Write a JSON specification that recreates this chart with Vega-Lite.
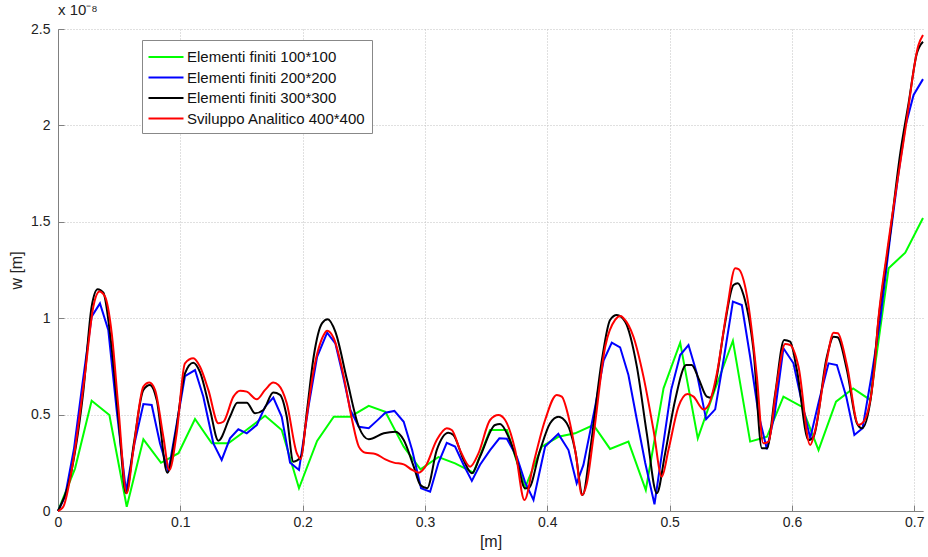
{
  "$schema": "https://vega.github.io/schema/vega-lite/v6.json",
  "width": 865,
  "height": 482,
  "autosize": {"type": "none"},
  "padding": {"left": 58, "top": 29, "right": 5, "bottom": 46},
  "background": "white",
  "title": {"text": "x 10⁻⁸", "anchor": "start", "frame": "group", "fontSize": 15, "fontWeight": "normal", "font": "Liberation Sans", "color": "#222222", "offset": 4},
  "data": {"values": [
    {"s":"Elementi finiti 100*100","x":0,"y":0},{"s":"Elementi finiti 100*100","x":0.0139,"y":0.22},{"s":"Elementi finiti 100*100","x":0.0275,"y":0.572},{"s":"Elementi finiti 100*100","x":0.042,"y":0.498},{"s":"Elementi finiti 100*100","x":0.0562,"y":0.022},{"s":"Elementi finiti 100*100","x":0.0698,"y":0.372},{"s":"Elementi finiti 100*100","x":0.0842,"y":0.25},{"s":"Elementi finiti 100*100","x":0.0916,"y":0.276},{"s":"Elementi finiti 100*100","x":0.0985,"y":0.3},{"s":"Elementi finiti 100*100","x":0.112,"y":0.477},{"s":"Elementi finiti 100*100","x":0.1257,"y":0.351},{"s":"Elementi finiti 100*100","x":0.1393,"y":0.351},{"s":"Elementi finiti 100*100","x":0.154,"y":0.42},{"s":"Elementi finiti 100*100","x":0.1693,"y":0.494},{"s":"Elementi finiti 100*100","x":0.1829,"y":0.42},{"s":"Elementi finiti 100*100","x":0.197,"y":0.118},{"s":"Elementi finiti 100*100","x":0.2118,"y":0.363},{"s":"Elementi finiti 100*100","x":0.2254,"y":0.489},{"s":"Elementi finiti 100*100","x":0.239,"y":0.489},{"s":"Elementi finiti 100*100","x":0.254,"y":0.545},{"s":"Elementi finiti 100*100","x":0.2676,"y":0.515},{"s":"Elementi finiti 100*100","x":0.2826,"y":0.334},{"s":"Elementi finiti 100*100","x":0.2963,"y":0.216},{"s":"Elementi finiti 100*100","x":0.311,"y":0.28},{"s":"Elementi finiti 100*100","x":0.3246,"y":0.247},{"s":"Elementi finiti 100*100","x":0.3396,"y":0.199},{"s":"Elementi finiti 100*100","x":0.3532,"y":0.42},{"s":"Elementi finiti 100*100","x":0.367,"y":0.42},{"s":"Elementi finiti 100*100","x":0.3818,"y":0.12},{"s":"Elementi finiti 100*100","x":0.3955,"y":0.334},{"s":"Elementi finiti 100*100","x":0.409,"y":0.385},{"s":"Elementi finiti 100*100","x":0.4227,"y":0.403},{"s":"Elementi finiti 100*100","x":0.4377,"y":0.446},{"s":"Elementi finiti 100*100","x":0.4513,"y":0.322},{"s":"Elementi finiti 100*100","x":0.4663,"y":0.36},{"s":"Elementi finiti 100*100","x":0.4805,"y":0.109},{"s":"Elementi finiti 100*100","x":0.495,"y":0.636},{"s":"Elementi finiti 100*100","x":0.5086,"y":0.873},{"s":"Elementi finiti 100*100","x":0.523,"y":0.377},{"s":"Elementi finiti 100*100","x":0.537,"y":0.63},{"s":"Elementi finiti 100*100","x":0.5517,"y":0.883},{"s":"Elementi finiti 100*100","x":0.5658,"y":0.36},{"s":"Elementi finiti 100*100","x":0.5795,"y":0.385},{"s":"Elementi finiti 100*100","x":0.593,"y":0.593},{"s":"Elementi finiti 100*100","x":0.608,"y":0.541},{"s":"Elementi finiti 100*100","x":0.6217,"y":0.316},{"s":"Elementi finiti 100*100","x":0.636,"y":0.567},{"s":"Elementi finiti 100*100","x":0.65,"y":0.636},{"s":"Elementi finiti 100*100","x":0.664,"y":0.576},{"s":"Elementi finiti 100*100","x":0.679,"y":1.259},{"s":"Elementi finiti 100*100","x":0.6926,"y":1.34},{"s":"Elementi finiti 100*100","x":0.7071,"y":1.52},
    {"s":"Elementi finiti 200*200","x":0,"y":0},{"s":"Elementi finiti 200*200","x":0.0057,"y":0.074},{"s":"Elementi finiti 200*200","x":0.013,"y":0.32},{"s":"Elementi finiti 200*200","x":0.02,"y":0.66},{"s":"Elementi finiti 200*200","x":0.0275,"y":1.008},{"s":"Elementi finiti 200*200","x":0.0343,"y":1.077},{"s":"Elementi finiti 200*200","x":0.0411,"y":0.939},{"s":"Elementi finiti 200*200","x":0.048,"y":0.52},{"s":"Elementi finiti 200*200","x":0.0556,"y":0.1},{"s":"Elementi finiti 200*200","x":0.0625,"y":0.35},{"s":"Elementi finiti 200*200","x":0.0698,"y":0.555},{"s":"Elementi finiti 200*200","x":0.0766,"y":0.55},{"s":"Elementi finiti 200*200","x":0.0834,"y":0.35},{"s":"Elementi finiti 200*200","x":0.0902,"y":0.204},{"s":"Elementi finiti 200*200","x":0.097,"y":0.45},{"s":"Elementi finiti 200*200","x":0.1038,"y":0.7},{"s":"Elementi finiti 200*200","x":0.112,"y":0.731},{"s":"Elementi finiti 200*200","x":0.1188,"y":0.593},{"s":"Elementi finiti 200*200","x":0.127,"y":0.351},{"s":"Elementi finiti 200*200","x":0.1338,"y":0.265},{"s":"Elementi finiti 200*200","x":0.1406,"y":0.377},{"s":"Elementi finiti 200*200","x":0.1474,"y":0.424},{"s":"Elementi finiti 200*200","x":0.1543,"y":0.403},{"s":"Elementi finiti 200*200","x":0.1625,"y":0.446},{"s":"Elementi finiti 200*200","x":0.1693,"y":0.541},{"s":"Elementi finiti 200*200","x":0.176,"y":0.588},{"s":"Elementi finiti 200*200","x":0.1829,"y":0.489},{"s":"Elementi finiti 200*200","x":0.1897,"y":0.251},{"s":"Elementi finiti 200*200","x":0.197,"y":0.213},{"s":"Elementi finiti 200*200","x":0.205,"y":0.55},{"s":"Elementi finiti 200*200","x":0.2118,"y":0.8},{"s":"Elementi finiti 200*200","x":0.22,"y":0.925},{"s":"Elementi finiti 200*200","x":0.2267,"y":0.87},{"s":"Elementi finiti 200*200","x":0.233,"y":0.7},{"s":"Elementi finiti 200*200","x":0.239,"y":0.524},{"s":"Elementi finiti 200*200","x":0.2459,"y":0.437},{"s":"Elementi finiti 200*200","x":0.254,"y":0.429},{"s":"Elementi finiti 200*200","x":0.261,"y":0.47},{"s":"Elementi finiti 200*200","x":0.2676,"y":0.51},{"s":"Elementi finiti 200*200","x":0.275,"y":0.519},{"s":"Elementi finiti 200*200","x":0.2826,"y":0.463},{"s":"Elementi finiti 200*200","x":0.2895,"y":0.316},{"s":"Elementi finiti 200*200","x":0.2968,"y":0.118},{"s":"Elementi finiti 200*200","x":0.3042,"y":0.1},{"s":"Elementi finiti 200*200","x":0.311,"y":0.25},{"s":"Elementi finiti 200*200","x":0.3178,"y":0.354},{"s":"Elementi finiti 200*200","x":0.3246,"y":0.334},{"s":"Elementi finiti 200*200","x":0.3315,"y":0.24},{"s":"Elementi finiti 200*200","x":0.3383,"y":0.156},{"s":"Elementi finiti 200*200","x":0.345,"y":0.24},{"s":"Elementi finiti 200*200","x":0.3532,"y":0.316},{"s":"Elementi finiti 200*200","x":0.3608,"y":0.377},{"s":"Elementi finiti 200*200","x":0.3669,"y":0.375},{"s":"Elementi finiti 200*200","x":0.375,"y":0.282},{"s":"Elementi finiti 200*200","x":0.3818,"y":0.15},{"s":"Elementi finiti 200*200","x":0.3887,"y":0.057},{"s":"Elementi finiti 200*200","x":0.3982,"y":0.334},{"s":"Elementi finiti 200*200","x":0.409,"y":0.4},{"s":"Elementi finiti 200*200","x":0.4173,"y":0.316},{"s":"Elementi finiti 200*200","x":0.424,"y":0.144},{"s":"Elementi finiti 200*200","x":0.4295,"y":0.239},{"s":"Elementi finiti 200*200","x":0.4391,"y":0.541},{"s":"Elementi finiti 200*200","x":0.446,"y":0.78},{"s":"Elementi finiti 200*200","x":0.4527,"y":0.873},{"s":"Elementi finiti 200*200","x":0.4595,"y":0.849},{"s":"Elementi finiti 200*200","x":0.4663,"y":0.705},{"s":"Elementi finiti 200*200","x":0.473,"y":0.48},{"s":"Elementi finiti 200*200","x":0.48,"y":0.25},{"s":"Elementi finiti 200*200","x":0.4876,"y":0.035},{"s":"Elementi finiti 200*200","x":0.4944,"y":0.33},{"s":"Elementi finiti 200*200","x":0.5012,"y":0.627},{"s":"Elementi finiti 200*200","x":0.5086,"y":0.809},{"s":"Elementi finiti 200*200","x":0.5154,"y":0.861},{"s":"Elementi finiti 200*200","x":0.5222,"y":0.714},{"s":"Elementi finiti 200*200","x":0.5298,"y":0.476},{"s":"Elementi finiti 200*200","x":0.5372,"y":0.527},{"s":"Elementi finiti 200*200","x":0.5445,"y":0.8},{"s":"Elementi finiti 200*200","x":0.5517,"y":1.086},{"s":"Elementi finiti 200*200","x":0.559,"y":1.068},{"s":"Elementi finiti 200*200","x":0.5658,"y":0.8},{"s":"Elementi finiti 200*200","x":0.5727,"y":0.5},{"s":"Elementi finiti 200*200","x":0.5795,"y":0.32},{"s":"Elementi finiti 200*200","x":0.5857,"y":0.498},{"s":"Elementi finiti 200*200","x":0.593,"y":0.844},{"s":"Elementi finiti 200*200","x":0.6012,"y":0.766},{"s":"Elementi finiti 200*200","x":0.608,"y":0.567},{"s":"Elementi finiti 200*200","x":0.6149,"y":0.377},{"s":"Elementi finiti 200*200","x":0.622,"y":0.57},{"s":"Elementi finiti 200*200","x":0.6299,"y":0.766},{"s":"Elementi finiti 200*200","x":0.6367,"y":0.757},{"s":"Elementi finiti 200*200","x":0.6444,"y":0.593},{"s":"Elementi finiti 200*200","x":0.651,"y":0.394},{"s":"Elementi finiti 200*200","x":0.6577,"y":0.429},{"s":"Elementi finiti 200*200","x":0.665,"y":0.7},{"s":"Elementi finiti 200*200","x":0.6721,"y":0.99},{"s":"Elementi finiti 200*200","x":0.6803,"y":1.423},{"s":"Elementi finiti 200*200","x":0.687,"y":1.75},{"s":"Elementi finiti 200*200","x":0.6926,"y":1.993},{"s":"Elementi finiti 200*200","x":0.6994,"y":2.158},{"s":"Elementi finiti 200*200","x":0.7071,"y":2.24},
    {"s":"Elementi finiti 300*300","x":0,"y":0},{"s":"Elementi finiti 300*300","x":0.0112,"y":0.213},{"s":"Elementi finiti 300*300","x":0.0207,"y":0.62},{"s":"Elementi finiti 300*300","x":0.0275,"y":1.06},{"s":"Elementi finiti 300*300","x":0.0324,"y":1.15},{"s":"Elementi finiti 300*300","x":0.0371,"y":1.132},{"s":"Elementi finiti 300*300","x":0.0425,"y":0.922},{"s":"Elementi finiti 300*300","x":0.0493,"y":0.489},{"s":"Elementi finiti 300*300","x":0.0556,"y":0.092},{"s":"Elementi finiti 300*300","x":0.062,"y":0.35},{"s":"Elementi finiti 300*300","x":0.0698,"y":0.628},{"s":"Elementi finiti 300*300","x":0.0752,"y":0.654},{"s":"Elementi finiti 300*300","x":0.0807,"y":0.576},{"s":"Elementi finiti 300*300","x":0.0894,"y":0.199},{"s":"Elementi finiti 300*300","x":0.0957,"y":0.385},{"s":"Elementi finiti 300*300","x":0.1038,"y":0.714},{"s":"Elementi finiti 300*300","x":0.1106,"y":0.769},{"s":"Elementi finiti 300*300","x":0.1161,"y":0.72},{"s":"Elementi finiti 300*300","x":0.1243,"y":0.524},{"s":"Elementi finiti 300*300","x":0.1311,"y":0.365},{"s":"Elementi finiti 300*300","x":0.1406,"y":0.489},{"s":"Elementi finiti 300*300","x":0.1466,"y":0.562},{"s":"Elementi finiti 300*300","x":0.1543,"y":0.562},{"s":"Elementi finiti 300*300","x":0.1611,"y":0.507},{"s":"Elementi finiti 300*300","x":0.1679,"y":0.524},{"s":"Elementi finiti 300*300","x":0.176,"y":0.614},{"s":"Elementi finiti 300*300","x":0.1815,"y":0.602},{"s":"Elementi finiti 300*300","x":0.187,"y":0.489},{"s":"Elementi finiti 300*300","x":0.1924,"y":0.256},{"s":"Elementi finiti 300*300","x":0.1987,"y":0.282},{"s":"Elementi finiti 300*300","x":0.2036,"y":0.524},{"s":"Elementi finiti 300*300","x":0.209,"y":0.8},{"s":"Elementi finiti 300*300","x":0.2159,"y":0.974},{"s":"Elementi finiti 300*300","x":0.2205,"y":0.994},{"s":"Elementi finiti 300*300","x":0.2267,"y":0.93},{"s":"Elementi finiti 300*300","x":0.2363,"y":0.679},{"s":"Elementi finiti 300*300","x":0.2459,"y":0.437},{"s":"Elementi finiti 300*300","x":0.254,"y":0.372},{"s":"Elementi finiti 300*300","x":0.2663,"y":0.403},{"s":"Elementi finiti 300*300","x":0.2758,"y":0.411},{"s":"Elementi finiti 300*300","x":0.2826,"y":0.368},{"s":"Elementi finiti 300*300","x":0.2908,"y":0.23},{"s":"Elementi finiti 300*300","x":0.2962,"y":0.135},{"s":"Elementi finiti 300*300","x":0.3017,"y":0.118},{"s":"Elementi finiti 300*300","x":0.3096,"y":0.316},{"s":"Elementi finiti 300*300","x":0.3191,"y":0.406},{"s":"Elementi finiti 300*300","x":0.3232,"y":0.394},{"s":"Elementi finiti 300*300","x":0.3315,"y":0.265},{"s":"Elementi finiti 300*300","x":0.3383,"y":0.196},{"s":"Elementi finiti 300*300","x":0.345,"y":0.282},{"s":"Elementi finiti 300*300","x":0.3573,"y":0.446},{"s":"Elementi finiti 300*300","x":0.3614,"y":0.451},{"s":"Elementi finiti 300*300","x":0.3682,"y":0.385},{"s":"Elementi finiti 300*300","x":0.375,"y":0.265},{"s":"Elementi finiti 300*300","x":0.3818,"y":0.118},{"s":"Elementi finiti 300*300","x":0.3846,"y":0.118},{"s":"Elementi finiti 300*300","x":0.3941,"y":0.316},{"s":"Elementi finiti 300*300","x":0.4023,"y":0.455},{"s":"Elementi finiti 300*300","x":0.4091,"y":0.489},{"s":"Elementi finiti 300*300","x":0.4159,"y":0.455},{"s":"Elementi finiti 300*300","x":0.4227,"y":0.316},{"s":"Elementi finiti 300*300","x":0.4289,"y":0.083},{"s":"Elementi finiti 300*300","x":0.435,"y":0.316},{"s":"Elementi finiti 300*300","x":0.4446,"y":0.783},{"s":"Elementi finiti 300*300","x":0.4513,"y":0.991},{"s":"Elementi finiti 300*300","x":0.4568,"y":1.017},{"s":"Elementi finiti 300*300","x":0.4636,"y":0.982},{"s":"Elementi finiti 300*300","x":0.4732,"y":0.749},{"s":"Elementi finiti 300*300","x":0.4813,"y":0.403},{"s":"Elementi finiti 300*300","x":0.4895,"y":0.092},{"s":"Elementi finiti 300*300","x":0.4963,"y":0.299},{"s":"Elementi finiti 300*300","x":0.5045,"y":0.576},{"s":"Elementi finiti 300*300","x":0.5135,"y":0.757},{"s":"Elementi finiti 300*300","x":0.518,"y":0.757},{"s":"Elementi finiti 300*300","x":0.5236,"y":0.688},{"s":"Elementi finiti 300*300","x":0.5304,"y":0.593},{"s":"Elementi finiti 300*300","x":0.5331,"y":0.588},{"s":"Elementi finiti 300*300","x":0.5372,"y":0.654},{"s":"Elementi finiti 300*300","x":0.5446,"y":0.948},{"s":"Elementi finiti 300*300","x":0.5522,"y":1.172},{"s":"Elementi finiti 300*300","x":0.5557,"y":1.181},{"s":"Elementi finiti 300*300","x":0.5604,"y":1.12},{"s":"Elementi finiti 300*300","x":0.5685,"y":0.835},{"s":"Elementi finiti 300*300","x":0.5754,"y":0.325},{"s":"Elementi finiti 300*300","x":0.5795,"y":0.325},{"s":"Elementi finiti 300*300","x":0.5863,"y":0.61},{"s":"Elementi finiti 300*300","x":0.5936,"y":0.887},{"s":"Elementi finiti 300*300","x":0.5985,"y":0.878},{"s":"Elementi finiti 300*300","x":0.604,"y":0.731},{"s":"Elementi finiti 300*300","x":0.6135,"y":0.368},{"s":"Elementi finiti 300*300","x":0.6176,"y":0.385},{"s":"Elementi finiti 300*300","x":0.6285,"y":0.8},{"s":"Elementi finiti 300*300","x":0.634,"y":0.904},{"s":"Elementi finiti 300*300","x":0.6372,"y":0.901},{"s":"Elementi finiti 300*300","x":0.6449,"y":0.731},{"s":"Elementi finiti 300*300","x":0.6531,"y":0.455},{"s":"Elementi finiti 300*300","x":0.6572,"y":0.429},{"s":"Elementi finiti 300*300","x":0.6646,"y":0.593},{"s":"Elementi finiti 300*300","x":0.6707,"y":0.99},{"s":"Elementi finiti 300*300","x":0.6803,"y":1.44},{"s":"Elementi finiti 300*300","x":0.6885,"y":1.855},{"s":"Elementi finiti 300*300","x":0.6953,"y":2.114},{"s":"Elementi finiti 300*300","x":0.7021,"y":2.374},{"s":"Elementi finiti 300*300","x":0.7071,"y":2.434},
    {"s":"Sviluppo Analitico 400*400","x":0,"y":0},{"s":"Sviluppo Analitico 400*400","x":0.0043,"y":0.022},{"s":"Sviluppo Analitico 400*400","x":0.0112,"y":0.213},{"s":"Sviluppo Analitico 400*400","x":0.0221,"y":0.714},{"s":"Sviluppo Analitico 400*400","x":0.0289,"y":1.06},{"s":"Sviluppo Analitico 400*400","x":0.0338,"y":1.138},{"s":"Sviluppo Analitico 400*400","x":0.0384,"y":1.112},{"s":"Sviluppo Analitico 400*400","x":0.0439,"y":0.922},{"s":"Sviluppo Analitico 400*400","x":0.0493,"y":0.541},{"s":"Sviluppo Analitico 400*400","x":0.0561,"y":0.092},{"s":"Sviluppo Analitico 400*400","x":0.0616,"y":0.316},{"s":"Sviluppo Analitico 400*400","x":0.0698,"y":0.645},{"s":"Sviluppo Analitico 400*400","x":0.0747,"y":0.666},{"s":"Sviluppo Analitico 400*400","x":0.0793,"y":0.628},{"s":"Sviluppo Analitico 400*400","x":0.0861,"y":0.385},{"s":"Sviluppo Analitico 400*400","x":0.091,"y":0.213},{"s":"Sviluppo Analitico 400*400","x":0.097,"y":0.403},{"s":"Sviluppo Analitico 400*400","x":0.1038,"y":0.766},{"s":"Sviluppo Analitico 400*400","x":0.1106,"y":0.792},{"s":"Sviluppo Analitico 400*400","x":0.1161,"y":0.748},{"s":"Sviluppo Analitico 400*400","x":0.1229,"y":0.628},{"s":"Sviluppo Analitico 400*400","x":0.1311,"y":0.455},{"s":"Sviluppo Analitico 400*400","x":0.1352,"y":0.463},{"s":"Sviluppo Analitico 400*400","x":0.1434,"y":0.593},{"s":"Sviluppo Analitico 400*400","x":0.1488,"y":0.624},{"s":"Sviluppo Analitico 400*400","x":0.1543,"y":0.619},{"s":"Sviluppo Analitico 400*400","x":0.1625,"y":0.579},{"s":"Sviluppo Analitico 400*400","x":0.1693,"y":0.628},{"s":"Sviluppo Analitico 400*400","x":0.176,"y":0.666},{"s":"Sviluppo Analitico 400*400","x":0.1802,"y":0.654},{"s":"Sviluppo Analitico 400*400","x":0.187,"y":0.559},{"s":"Sviluppo Analitico 400*400","x":0.1952,"y":0.3},{"s":"Sviluppo Analitico 400*400","x":0.1985,"y":0.27},{"s":"Sviluppo Analitico 400*400","x":0.2025,"y":0.45},{"s":"Sviluppo Analitico 400*400","x":0.209,"y":0.731},{"s":"Sviluppo Analitico 400*400","x":0.2172,"y":0.913},{"s":"Sviluppo Analitico 400*400","x":0.22,"y":0.935},{"s":"Sviluppo Analitico 400*400","x":0.2254,"y":0.896},{"s":"Sviluppo Analitico 400*400","x":0.2336,"y":0.697},{"s":"Sviluppo Analitico 400*400","x":0.2404,"y":0.472},{"s":"Sviluppo Analitico 400*400","x":0.2459,"y":0.334},{"s":"Sviluppo Analitico 400*400","x":0.2513,"y":0.302},{"s":"Sviluppo Analitico 400*400","x":0.2595,"y":0.296},{"s":"Sviluppo Analitico 400*400","x":0.2676,"y":0.268},{"s":"Sviluppo Analitico 400*400","x":0.2745,"y":0.251},{"s":"Sviluppo Analitico 400*400","x":0.2826,"y":0.242},{"s":"Sviluppo Analitico 400*400","x":0.2895,"y":0.213},{"s":"Sviluppo Analitico 400*400","x":0.2949,"y":0.199},{"s":"Sviluppo Analitico 400*400","x":0.3003,"y":0.23},{"s":"Sviluppo Analitico 400*400","x":0.3096,"y":0.368},{"s":"Sviluppo Analitico 400*400","x":0.3178,"y":0.429},{"s":"Sviluppo Analitico 400*400","x":0.3219,"y":0.42},{"s":"Sviluppo Analitico 400*400","x":0.3287,"y":0.316},{"s":"Sviluppo Analitico 400*400","x":0.3369,"y":0.23},{"s":"Sviluppo Analitico 400*400","x":0.3437,"y":0.299},{"s":"Sviluppo Analitico 400*400","x":0.3532,"y":0.472},{"s":"Sviluppo Analitico 400*400","x":0.36,"y":0.498},{"s":"Sviluppo Analitico 400*400","x":0.3655,"y":0.472},{"s":"Sviluppo Analitico 400*400","x":0.3737,"y":0.316},{"s":"Sviluppo Analitico 400*400","x":0.3813,"y":0.057},{"s":"Sviluppo Analitico 400*400","x":0.3887,"y":0.247},{"s":"Sviluppo Analitico 400*400","x":0.3982,"y":0.472},{"s":"Sviluppo Analitico 400*400","x":0.4077,"y":0.602},{"s":"Sviluppo Analitico 400*400","x":0.4118,"y":0.593},{"s":"Sviluppo Analitico 400*400","x":0.4173,"y":0.489},{"s":"Sviluppo Analitico 400*400","x":0.4236,"y":0.282},{"s":"Sviluppo Analitico 400*400","x":0.4282,"y":0.083},{"s":"Sviluppo Analitico 400*400","x":0.4323,"y":0.144},{"s":"Sviluppo Analitico 400*400","x":0.4377,"y":0.385},{"s":"Sviluppo Analitico 400*400","x":0.4473,"y":0.852},{"s":"Sviluppo Analitico 400*400","x":0.4554,"y":0.991},{"s":"Sviluppo Analitico 400*400","x":0.46,"y":1.011},{"s":"Sviluppo Analitico 400*400","x":0.4623,"y":1.0},{"s":"Sviluppo Analitico 400*400","x":0.4704,"y":0.904},{"s":"Sviluppo Analitico 400*400","x":0.4786,"y":0.697},{"s":"Sviluppo Analitico 400*400","x":0.4868,"y":0.42},{"s":"Sviluppo Analitico 400*400","x":0.4936,"y":0.178},{"s":"Sviluppo Analitico 400*400","x":0.499,"y":0.316},{"s":"Sviluppo Analitico 400*400","x":0.5072,"y":0.541},{"s":"Sviluppo Analitico 400*400","x":0.5146,"y":0.607},{"s":"Sviluppo Analitico 400*400","x":0.5195,"y":0.593},{"s":"Sviluppo Analitico 400*400","x":0.5277,"y":0.527},{"s":"Sviluppo Analitico 400*400","x":0.5318,"y":0.55},{"s":"Sviluppo Analitico 400*400","x":0.5386,"y":0.714},{"s":"Sviluppo Analitico 400*400","x":0.5468,"y":1.043},{"s":"Sviluppo Analitico 400*400","x":0.5536,"y":1.259},{"s":"Sviluppo Analitico 400*400","x":0.5563,"y":1.254},{"s":"Sviluppo Analitico 400*400","x":0.5631,"y":1.12},{"s":"Sviluppo Analitico 400*400","x":0.5713,"y":0.697},{"s":"Sviluppo Analitico 400*400","x":0.5765,"y":0.351},{"s":"Sviluppo Analitico 400*400","x":0.5808,"y":0.36},{"s":"Sviluppo Analitico 400*400","x":0.5877,"y":0.662},{"s":"Sviluppo Analitico 400*400","x":0.5944,"y":0.866},{"s":"Sviluppo Analitico 400*400","x":0.5985,"y":0.861},{"s":"Sviluppo Analitico 400*400","x":0.6053,"y":0.749},{"s":"Sviluppo Analitico 400*400","x":0.6149,"y":0.342},{"s":"Sviluppo Analitico 400*400","x":0.619,"y":0.42},{"s":"Sviluppo Analitico 400*400","x":0.6285,"y":0.783},{"s":"Sviluppo Analitico 400*400","x":0.634,"y":0.925},{"s":"Sviluppo Analitico 400*400","x":0.6375,"y":0.922},{"s":"Sviluppo Analitico 400*400","x":0.6449,"y":0.757},{"s":"Sviluppo Analitico 400*400","x":0.6544,"y":0.446},{"s":"Sviluppo Analitico 400*400","x":0.6585,"y":0.463},{"s":"Sviluppo Analitico 400*400","x":0.6667,"y":0.697},{"s":"Sviluppo Analitico 400*400","x":0.6707,"y":1.0},{"s":"Sviluppo Analitico 400*400","x":0.6776,"y":1.337},{"s":"Sviluppo Analitico 400*400","x":0.6926,"y":1.976},{"s":"Sviluppo Analitico 400*400","x":0.7034,"y":2.417},{"s":"Sviluppo Analitico 400*400","x":0.7071,"y":2.469}
  ]},
  "encoding": {
    "x": {"field": "x", "type": "quantitative",
      "scale": {"domain": [0, 0.7071], "nice": false, "zero": false},
      "axis": {"title": "[m]", "values": [0, 0.1, 0.2, 0.3, 0.4, 0.5, 0.6, 0.7], "format": "~g", "labelFlush": false, "labelPadding": 10, "titlePadding": 4}},
    "y": {"field": "y", "type": "quantitative",
      "scale": {"domain": [0, 2.5], "nice": false},
      "axis": {"title": "w [m]", "values": [0, 0.5, 1, 1.5, 2, 2.5], "format": "~g", "labelPadding": 14, "titlePadding": 6}},
    "color": {"field": "s", "type": "nominal",
      "scale": {"domain": ["Elementi finiti 100*100", "Elementi finiti 200*200", "Elementi finiti 300*300", "Sviluppo Analitico 400*400"], "range": ["#00ff00", "#0000ff", "#000000", "#ff0000"]},
      "legend": {"title": null, "orient": "none", "legendX": 84, "legendY": 11, "symbolType": "M-1.75,0H1.75", "symbolSize": 400, "symbolStrokeWidth": 2, "symbolOffset": 7, "labelOffset": 10, "labelLimit": 400, "labelFontSize": 15, "labelFont": "Liberation Sans", "labelColor": "#111111", "strokeColor": "#888888", "fillColor": "white", "padding": 6, "rowPadding": 1.5}}
  },
  "layer": [
    {"transform": [{"filter": {"field": "s", "oneOf": ["Elementi finiti 100*100", "Elementi finiti 200*200"]}}],
     "mark": {"type": "line", "strokeWidth": 2, "interpolate": "linear"}},
    {"transform": [{"filter": {"field": "s", "oneOf": ["Elementi finiti 300*300", "Sviluppo Analitico 400*400"]}}],
     "mark": {"type": "line", "strokeWidth": 2, "interpolate": "monotone"}}
  ],
  "config": {
    "font": "Liberation Sans",
    "view": {"stroke": null},
    "axis": {"domainColor": "#808080", "tickColor": "#808080", "tickSize": -6, "gridColor": "#c0c0c0", "gridDash": [1, 2], "labelFont": "Liberation Sans", "labelFontSize": 14, "labelColor": "#222222", "titleFont": "Liberation Sans", "titleFontSize": 16, "titleFontWeight": "normal", "titleColor": "#222222", "labelOverlap": false}
  }
}
